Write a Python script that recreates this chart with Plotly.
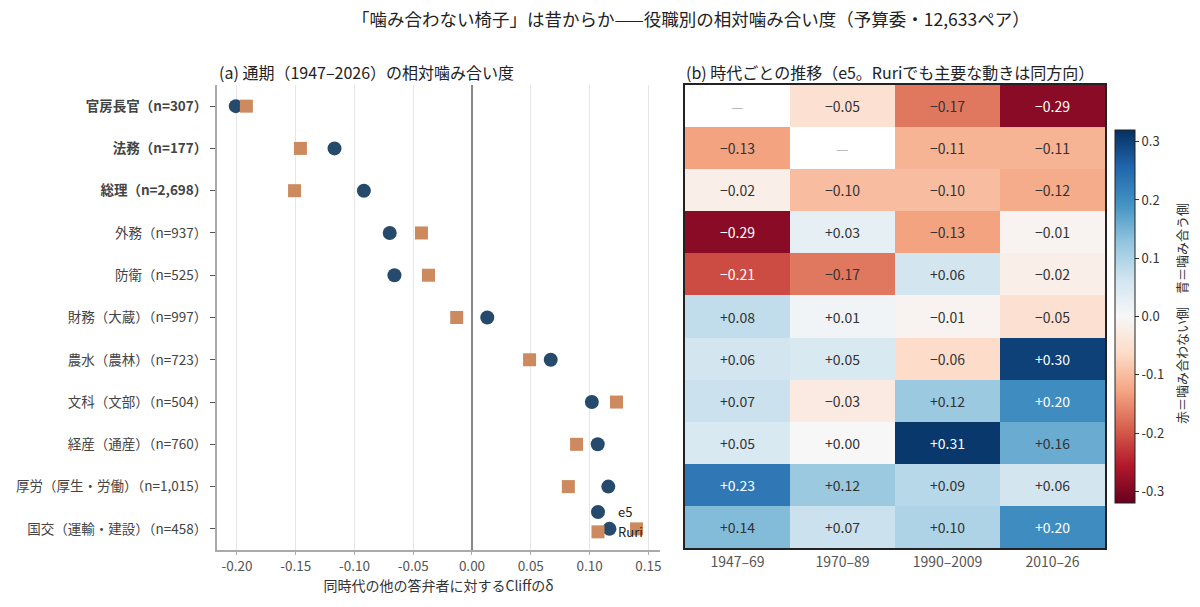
import plotly.graph_objects as go

# roles (top -> bottom) and whether the label is bold
roles = ["官房長官（n=307）", "法務（n=177）", "総理（n=2,698）", "外務（n=937）",
         "防衛（n=525）", "財務（大蔵）（n=997）", "農水（農林）（n=723）",
         "文科（文部）（n=504）", "経産（通産）（n=760）",
         "厚労（厚生・労働）（n=1,015）", "国交（運輸・建設）（n=458）"]
bold_rows = [True, True, True] + [False] * 8

# panel (a): whole-period Cliff's delta
e5 = [-0.201, -0.117, -0.092, -0.070, -0.066, 0.013, 0.067, 0.102, 0.107, 0.116, 0.117]
ruri = [-0.192, -0.146, -0.151, -0.043, -0.037, -0.013, 0.049, 0.123, 0.089, 0.082, 0.140]

# panel (b): by era (e5)
eras = ["1947–69", "1970–89", "1990–2009", "2010–26"]
era_vals = [
    [None, -0.05, -0.17, -0.29],
    [-0.13, None, -0.11, -0.11],
    [-0.02, -0.10, -0.10, -0.12],
    [-0.29, 0.03, -0.13, -0.01],
    [-0.21, -0.17, 0.06, -0.02],
    [0.08, 0.01, -0.01, -0.05],
    [0.06, 0.05, -0.06, 0.30],
    [0.07, -0.03, 0.12, 0.20],
    [0.05, 0.00, 0.31, 0.16],
    [0.23, 0.12, 0.09, 0.06],
    [0.14, 0.07, 0.10, 0.20],
]

x_ticks = [-0.20, -0.15, -0.10, -0.05, 0.00, 0.05, 0.10, 0.15]
cb_ticks = [-0.3, -0.2, -0.1, 0.0, 0.1, 0.2, 0.3]

FONT = "Noto Sans CJK JP"
rdbu = ['rgb(103,0,31)', 'rgb(178,24,43)', 'rgb(214,96,77)', 'rgb(244,165,130)',
        'rgb(253,219,199)', 'rgb(247,247,247)', 'rgb(209,229,240)', 'rgb(146,197,222)',
        'rgb(67,147,195)', 'rgb(33,102,172)', 'rgb(5,48,97)']
cscale = [[i / (len(rdbu) - 1), c] for i, c in enumerate(rdbu)]

rows = list(range(len(roles)))

fig = go.Figure()
fig.add_trace(go.Scatter(x=e5, y=rows, mode="markers", name="e5",
                         marker=dict(symbol="circle", size=14, color="#264a6b"),
                         xaxis="x", yaxis="y"))
fig.add_trace(go.Scatter(x=ruri, y=rows, mode="markers", name="Ruri",
                         marker=dict(symbol="square", size=13, color="#cd8a5f"),
                         xaxis="x", yaxis="y"))

fig.add_trace(go.Heatmap(z=era_vals, x=eras, y=rows, xaxis="x2", yaxis="y2",
                         colorscale=cscale, zmin=-0.32, zmax=0.32, showscale=True,
                         hoverongaps=False,
                         colorbar=dict(x=1115 / 1200, xanchor="left", xpad=0,
                                       y=1 - 316.5 / 607, yanchor="middle", ypad=0,
                                       len=373 / 607, lenmode="fraction", thickness=20,
                                       outlinecolor="#222", outlinewidth=1,
                                       tickvals=cb_ticks,
                                       ticktext=[f"{v:.1f}" for v in cb_ticks],
                                       ticks="outside", ticklen=4, tickcolor="#333",
                                       tickfont=dict(family=FONT, size=13, color="#333"))))

# cell labels
annotations = []
for r, rowvals in enumerate(era_vals):
    for c, v in enumerate(rowvals):
        if v is None:
            txt, col = "—", "#bbbbbb"
        else:
            txt = ("+" if v >= 0 else "−") + f"{abs(v):.2f}"
            col = "white" if abs(v) >= 0.19 else "#333333"
        annotations.append(dict(x=eras[c], y=r, xref="x2", yref="y2", text=txt,
                                showarrow=False, font=dict(family=FONT, size=14, color=col)))

annotations += [
    dict(x=691 / 1200, y=1 - 18 / 607, xref="paper", yref="paper", showarrow=False,
         text="「噛み合わない椅子」は昔からか——役職別の相対噛み合い度（予算委・12,633ペア）",
         font=dict(family=FONT, size=17.5, color="#222"), xanchor="center", yanchor="middle"),
    dict(x=217 / 1200, y=1 - 72 / 607, xref="paper", yref="paper", showarrow=False,
         text="(a) 通期（1947–2026）の相対噛み合い度",
         font=dict(family=FONT, size=16, color="#222"), xanchor="left", yanchor="middle"),
    dict(x=684 / 1200, y=1 - 72 / 607, xref="paper", yref="paper", showarrow=False,
         text="(b) 時代ごとの推移（e5。Ruriでも主要な動きは同方向）",
         font=dict(family=FONT, size=16, color="#222"), xanchor="left", yanchor="middle"),
    dict(x=1181 / 1200, y=1 - 314 / 607, xref="paper", yref="paper", showarrow=False,
         text="赤＝噛み合わない側　青＝噛み合う側", textangle=-90,
         font=dict(family=FONT, size=13, color="#333"), xanchor="center", yanchor="middle"),
]

role_text = [f"<b>{t}</b>" if b else t for t, b in zip(roles, bold_rows)]

fig.update_layout(
    width=1200, height=607,
    margin=dict(l=0, r=0, t=0, b=0),
    paper_bgcolor="white", plot_bgcolor="white",
    font=dict(family=FONT, color="#444"),
    showlegend=True,
    legend=dict(x=578 / 1200, y=1 - 497 / 607, xanchor="left", yanchor="top",
                bgcolor="rgba(0,0,0,0)", font=dict(family=FONT, size=13, color="#222"),
                itemwidth=30, tracegroupgap=0),
    xaxis=dict(domain=[217 / 1200, 660 / 1200], range=[-0.217, 0.16],
               tickvals=x_ticks, ticktext=[f"{v:.2f}" for v in x_ticks],
               showgrid=True, gridcolor="#e6e6e6", gridwidth=1,
               zeroline=True, zerolinecolor="#888", zerolinewidth=2,
               showline=True, linecolor="#aaa", linewidth=2,
               ticks="outside", ticklen=3, tickcolor="#aaa",
               tickfont=dict(family=FONT, size=13.5, color="#555"),
               title=dict(text="同時代の他の答弁者に対するCliffのδ", standoff=6,
                          font=dict(family=FONT, size=14, color="#333"))),
    yaxis=dict(domain=[57 / 607, 522 / 607], range=[10.5, -0.5],
               tickvals=rows, ticktext=role_text,
               showgrid=False, zeroline=False,
               showline=True, linecolor="#aaa", linewidth=2,
               ticks="outside", ticklen=5, tickcolor="#555",
               tickfont=dict(family=FONT, size=13.5, color="#444")),
    xaxis2=dict(domain=[685 / 1200, 1105 / 1200], anchor="y2", type="category",
                range=[-0.5, 3.5], showgrid=False, zeroline=False,
                showline=True, linecolor="#222", linewidth=1.5, mirror=True,
                ticks="", tickfont=dict(family=FONT, size=14, color="#555")),
    yaxis2=dict(domain=[59 / 607, 522 / 607], anchor="x2", range=[10.5, -0.5],
                showgrid=False, zeroline=False, showticklabels=False,
                showline=True, linecolor="#222", linewidth=1.5, mirror=True, ticks=""),
    annotations=annotations,
)

fig.write_html("out.html", config={"displayModeBar": False},
               post_script="document.body.style.margin='0';")
